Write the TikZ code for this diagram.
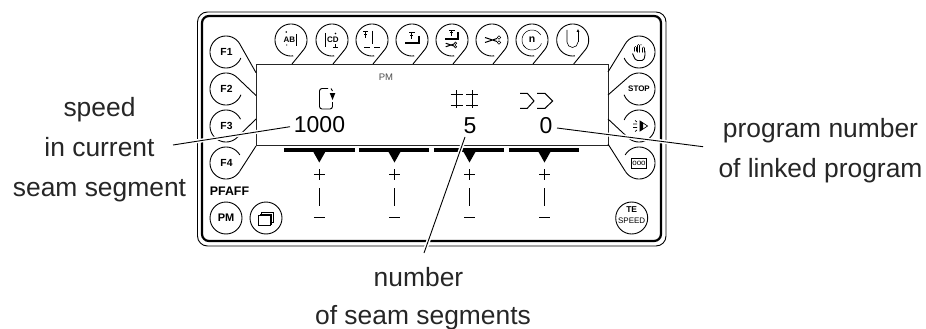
\documentclass[tikz,border=0pt]{standalone}
\usepackage{fontspec}
\setmainfont{Liberation Sans}
\newcommand{\fsz}[1]{\fontsize{#1}{#1}\selectfont}
\tikzset{
  lbl/.style={inner sep=0pt,anchor=base,text=black!85,font=\fsz{26.4}},
  num/.style={inner sep=0pt,font=\fsz{23}},
  key/.style={inner sep=0pt,font=\bfseries\fsz{10.3}},
  tiny/.style={inner sep=0pt,font=\bfseries\fsz{8}},
  rim/.style={line width=0.9pt,black},
  leader/.style={line width=0.9pt,black},
  halo/.style={line width=4pt,white},
  bar/.style={line width=3.8pt,black},
}
% centre x, centre y, start angle, end angle, tail angle, tail end
\newcommand{\keyring}[6]{%
  \draw[rim] plot[domain=#3:#4,samples=50] ({#1+16*cos(\x)},{#2+16*sin(\x)});
  \draw[rim] ({#1+16*cos(#5)},{#2+16*sin(#5)}) -- (#6);
}
\newcommand{\slider}[1]{%
  \fill (#1-6.5,151) -- (#1+6.5,151) -- (#1,162.5) -- cycle;
  \draw[line width=1pt] (#1-5.5,174.5) -- (#1+5.5,174.5) (#1,169) -- (#1,180);
  \draw[line width=1pt] (#1,188) -- (#1,206);
  \draw[line width=1.4pt] (#1-5.5,217.7) -- (#1+5.5,217.7);
}
\newcommand{\dagg}[2]{%
  \draw[line width=.6pt] (#1-1.5,#2-2) -- (#1+1.5,#2-2) (#1,#2-3.5) -- (#1,#2+2);
}
\newcommand{\snips}[3]{% x y scale
  \begin{scope}[shift={(#1,#2)},scale=#3]
    \draw[line width=1pt] (-9,-2.5) -- (3,1.5) (-9,2.5) -- (3,-1.5);
    \draw[line width=.5pt] (5,-2.5) circle (1.8) (5,2.5) circle (1.8);
  \end{scope}
}
\begin{document}
\begin{tikzpicture}[x=1pt,y=-1pt]
\useasboundingbox (0,0) rectangle (926,329);
% housing
\draw[line width=0.9pt,rounded corners=10pt] (197.5,12) rectangle (666,246);
\draw[line width=2.2pt,rounded corners=7pt] (202,16) rectangle (661,241);
% display
\node[draw=black!85,line width=0.8pt,minimum width=352pt,minimum height=81pt,inner sep=0pt,anchor=north west] (disp) at (256,64) {};
\node[inner sep=0pt,font=\fsz{9.5},text=black!70] (pmtext) at (386,77) {PM};
% top keys
\foreach \cx/\tx in {291/292,332/333,372/373,412/413,452/453,492/493,532/533,572.7/573.7}{
  \coordinate (tt) at (\tx,64);
  \keyring{\cx}{40}{82}{395}{395}{tt}
}
% left keys
\coordinate (f1t) at (256,72.7); \keyring{226}{52}{22}{325}{325}{f1t}
\coordinate (f2t) at (256,95.5); \keyring{226}{89}{21}{315}{315}{f2t}
\coordinate (f3t) at (256,119);  \keyring{226}{126}{45}{335}{45}{f3t}
\coordinate (f4t) at (256,146);  \keyring{226}{163}{32}{330}{32}{f4t}
\node[key] (kf1) at (226.5,52) {F1};
\node[key] (kf2) at (226.5,89) {F2};
\node[key] (kf3) at (226.5,126) {F3};
\node[key] (kf4) at (226.5,163) {F4};
% right keys
\coordinate (r1t) at (608,72);  \keyring{639}{52}{-145}{158}{-145}{r1t}
\coordinate (r2t) at (608,95);  \keyring{639}{89}{-135}{159}{-135}{r2t}
\coordinate (r3t) at (608,119); \keyring{639}{126}{-158}{135}{135}{r3t}
\coordinate (r4t) at (608,144); \keyring{639}{163}{-150}{148}{148}{r4t}
\node[key] (kstop) at (639,89) {\fsz{8}STOP};
% bottom keys
\node[draw,circle,rim,minimum size=32pt,inner sep=0pt,font=\bfseries\fsz{11}] (kpm) at (226,218) {PM};
\node[draw,circle,rim,minimum size=32pt,inner sep=0pt] (kpages) at (266,218) {};
\node[draw,circle,rim,minimum size=32pt,inner sep=0pt] (kte) at (631.7,218) {};
\node[inner sep=0pt,font=\bfseries\fsz{8.5}] (kte1) at (631.7,209.5) {TE};
\node[inner sep=0pt,font=\fsz{8}] (kte2) at (631.7,220.5) {SPEED};
\node[inner sep=0pt,font=\bfseries\fsz{12.4}] (pfaff) at (229.5,191.7) {PFAFF};
% page stack icon
\foreach \d in {3,1.5,0}{
  \filldraw[fill=white,line width=.45pt] (258.3+\d,215.7-\d) rectangle (270+\d,225.7-\d);
}
% icon top 1
\node[tiny] (ka) at (286.5,39.5) {A};
\node[tiny] (kb) at (292.3,39.5) {B};
\draw[line width=.8pt] (296.7,34) -- (296.7,46);
\fill (286.3,32) circle (.9) (286.7,45) circle (.7);
% icon top 2
\node[tiny] (kc) at (330,40) {C};
\node[tiny] (kd) at (335.8,40) {D};
\draw[line width=.8pt] (325.5,33) -- (325.5,47);
\draw[line width=.7pt] (333,47.5) -- (338,47.5) (335.5,44.5) -- (335.5,47.5);
\fill (335.5,33.5) circle (.8);
% icon top 3
\dagg{365.7}{36}
\draw[line width=.5pt] (363,31.7) -- (368.4,31.7);
\draw[line width=1.5pt] (372.3,30.7) -- (372.3,44.3);
\draw[line width=.5pt] (364,47.3) -- (370,47.3) (374,47.3) -- (380,47.3);
% icon top 4
\dagg{411.7}{37}
\draw[line width=.5pt] (409,32.5) -- (414.5,32.5);
\draw[line width=2pt] (405,43.5) -- (418.5,43.5);
\draw[line width=2pt] (418.5,36) -- (418.5,44.5);
% icon top 5
\dagg{451.7}{34.5}
\draw[line width=.5pt] (449,30) -- (454.5,30);
\draw[line width=2pt] (445,39.5) -- (458.3,39.5);
\draw[line width=2pt] (458.3,32) -- (458.3,40.5);
\snips{452}{45}{.7}
% icon top 6
\snips{494}{40}{1}
% icon top 7
\node[inner sep=0pt,font=\bfseries\fsz{10.5}] (nn) at (532,39.5) {n};
\draw[line width=.5pt] plot[domain=130:330,samples=20] ({532+10*cos(\x)},{40+10*sin(\x)});
\draw[line width=.5pt] plot[domain=20:150,samples=20] ({532+10*cos(\x)},{40+10*sin(\x)});
% icon top 8
\draw[line width=.6pt] (567,30) -- (567,42) arc[start angle=180,end angle=360,radius=5.5pt];
\draw[line width=.6pt] (578,42) -- (578,31);
\fill (578,29) -- (576.6,32) -- (579.4,32) -- cycle;
% hand icon
\begin{scope}[shift={(639.5,52)}]
  \draw[line width=.9pt,rounded corners=1.5pt,fill=white] (-7,1.5) -- (-5,6) -- (-3.5,8.5) -- (4,8.5) -- (5.5,4) -- (5.5,-1);
  \draw[line width=2.7pt,line cap=round] (-4,-1) -- (-4,-4.5) (-1.3,0) -- (-1.3,-6.5) (1.4,0) -- (1.4,-6.5) (4.1,0) -- (4.1,-4);
  \draw[line width=1.3pt,white,line cap=round] (-4,.5) -- (-4,-4.5) (-1.3,1.5) -- (-1.3,-6.5) (1.4,1.5) -- (1.4,-6.5) (4.1,1.5) -- (4.1,-4);
\end{scope}
% eye arrow icon
\begin{scope}[shift={(640,126)}]
  \draw[line width=.7pt] (0,-5) -- (7.5,0) -- (0,5) -- cycle;
  \fill (0,-5) -- (3,-3) -- (3,3) -- (0,5) -- cycle;
  \draw[line width=.7pt] (-7,-2) -- (-3,-2) (-7,1.5) -- (-3,1.5) (-3,-4) -- (-5,-5.5) (-3,4) -- (-5,5.5);
\end{scope}
% ooo icon
\node[draw,line width=.6pt,minimum width=15pt,minimum height=9.5pt,inner sep=0pt,font=\fsz{8}] (ooo) at (639,163.5) {ooo};
% display icons
\draw[line width=.9pt,rounded corners=2.5pt] (328,88.5) -- (319.5,88.5) -- (319.5,109) -- (332.5,109) -- (332.5,102);
\draw[line width=.9pt] (331,88.5) -- (332.5,91);
\fill (329.7,93) -- (335.3,93) -- (332.5,100) -- cycle;
\foreach \hx in {456.7,472.3}{
  \draw[line width=.9pt] (\hx,90) -- (\hx,108) (\hx-6,94) -- (\hx+6,94) (\hx-6,105) -- (\hx+6,105);
}
\draw[line width=1pt] (520,93.3) -- (527.3,93.3) -- (534,101) -- (527.3,108.3) -- (520,108.3);
\draw[line width=1pt] (537,93.3) -- (545,93.3) -- (552.7,101) -- (545,108.3) -- (537,108.3);
% numbers
\node[num] (n1000) at (319.5,125) {1000};
\node[num] (n5) at (470,125.5) {5};
\node[num] (n0) at (546,125.5) {0};
% sliders
\draw[bar] (284,149.7) -- (354.7,149.7);
\draw[bar] (359,149.7) -- (429.3,149.7);
\draw[bar] (434,149.7) -- (504.3,149.7);
\draw[bar] (509,149.7) -- (579.3,149.7);
\slider{319.3}
\slider{394.5}
\slider{469.5}
\slider{544.5}
% labels
\node[lbl] (t1) at (99.5,116) {speed};
\node[lbl] (t2) at (99.5,156.7) {in current};
\node[lbl] (t3) at (99.5,196) {seam segment};
\node[lbl] (t4) at (820.5,137.5) {program number};
\node[lbl] (t5) at (820.5,177) {of linked program};
\node[lbl] (t6) at (418.5,286.7) {number};
\node[lbl] (t7) at (423,324) {of seam segments};
% leaders
\coordinate (a1) at (173,145); \coordinate (b1) at (290,126.7);
\coordinate (a2) at (703,146.7); \coordinate (b2) at (557,128);
\coordinate (a3) at (424,253); \coordinate (b3) at (465,137);
\draw[halo] (a1) -- (b1);
\draw[halo] (a2) -- (b2);
\draw[halo] (a3) -- (b3);
\draw[leader] (a1) -- (b1);
\draw[leader] (a2) -- (b2);
\draw[leader] (a3) -- (b3);
\end{tikzpicture}
\end{document}
